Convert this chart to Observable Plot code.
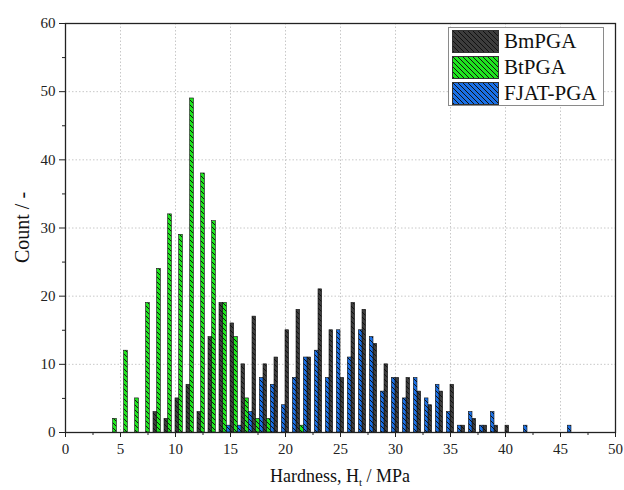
<!DOCTYPE html>
<html><head><meta charset="utf-8">
<script src="https://cdn.jsdelivr.net/npm/d3@7"></script>
<script src="https://cdn.jsdelivr.net/npm/@observablehq/plot@0.6"></script>
<style>
body{margin:0;background:#fff;}
#wrap{position:relative;width:624px;height:490px;}
#legend{position:absolute;left:448px;top:27px;width:154px;height:77px;border:1px solid #8a8a8a;background:#fff;font-family:'Liberation Serif',serif;font-size:21px;color:#111;}
.row{position:absolute;left:3px;height:23px;display:flex;align-items:center;}
.row svg{margin-right:5px;display:block;}
.row span{font-family:'Liberation Serif',serif;}
</style></head><body><div id="wrap"></div>
<script>
const seriesNames = ["BmPGA", "BtPGA", "FJAT-PGA"];
const seriesColors = ["#3d3d3d", "#1ee61e", "#1a70e6"];

const bmBins   = [8,9,10,11,12,13,14,15,16,17,18,19,20,21,22,23,24,25,26,27,28,29,30,31,32,33,34,35,36,37,38,39,40];
const bmCounts = [3,2,5,7,3,14,19,16,10,17,10,11,15,18,11,21,15,8,19,18,13,10,8,8,6,4,6,7,1,2,1,1,1];

const btBins   = [4,5,6,7,8,9,10,11,12,13,14,15,16,17,18,19,20,21];
const btCounts = [2,12,5,19,24,32,29,49,38,31,19,14,5,2,2,0,0,1];

const fjBins   = [14,15,16,17,18,19,20,21,22,23,24,25,26,27,28,29,30,31,32,33,34,35,36,37,38,39,40,41,42,43,44,45];
const fjCounts = [1,1,3,8,7,4,8,11,12,8,15,11,15,14,6,8,5,8,5,7,3,1,3,1,3,0,0,1,0,0,0,1];

const xTicks = [0,5,10,15,20,25,30,35,40,45,50];
const xMinor = [2.5,7.5,12.5,17.5,22.5,27.5,32.5,37.5,42.5,47.5];
const yTicks = [0,10,20,30,40,50,60];
const yMinor = [5,15,25,35,45,55];

const allBins = [bmBins, btBins, fjBins];
const allCounts = [bmCounts, btCounts, fjCounts];

function rowsFor(i) {
  return allBins[i].map((b, j) => ({series: seriesNames[i], x1: b + i/3, x2: b + (i+1)/3, count: allCounts[i][j]}))
    .filter(d => d.count > 0);
}

const font = "Liberation Serif";

const plot = Plot.plot({
  width: 624, height: 490,
  marginLeft: 65, marginRight: 9, marginTop: 23, marginBottom: 58,
  style: {fontSize: "15px", color: "#222", background: "#fff"},
  x: {domain: [0, 50]},
  y: {domain: [0, 60]},
  marks: [
    Plot.gridX(xTicks.slice(1, -1), {stroke: "#c8c8c8", strokeOpacity: 1, strokeDasharray: "1.5,2"}),
    Plot.gridY(yTicks.slice(1, -1), {stroke: "#c8c8c8", strokeOpacity: 1, strokeDasharray: "1.5,2"}),
    ...[0,1,2].map(i => Plot.rectY(rowsFor(i), {x1: "x1", x2: "x2", y: "count", fill: `url(#hatch-${i})`, stroke: "#111", strokeWidth: 0.6})),
    Plot.axisX(xTicks, {tickSize: 5, tickPadding: 6, label: null, fontSize: 15}),
    Plot.axisX(xMinor, {tickSize: 3, tickFormat: () => "", label: null}),
    Plot.axisY(yTicks, {tickSize: 6, tickPadding: 4, label: null, fontSize: 15}),
    Plot.axisY(yMinor, {tickSize: 3, tickFormat: () => "", label: null}),
    Plot.frame({stroke: "#222", strokeWidth: 1.3})
  ]
});

// hatch patterns
const svg = d3.select(plot);
svg.style("font-family", "'Liberation Serif', serif");
const defs = svg.insert("defs", ":first-child");
seriesColors.forEach((c, i) => {
  const p = defs.append("pattern").attr("id", `hatch-${i}`).attr("patternUnits", "userSpaceOnUse")
    .attr("width", 5).attr("height", 5);
  p.append("rect").attr("width", 5).attr("height", 5).attr("fill", c);
  p.append("path").attr("d", "M0,0L5,5M-1,4L1,6M4,-1L6,1").attr("stroke", "#111").attr("stroke-width", 1);
});

// axis titles
const sx = plot.scale("x"), sy = plot.scale("y");
const cx = (sx.range[0] + sx.range[1]) / 2;
const cy = (sy.range[0] + sy.range[1]) / 2;
const xt = svg.append("text").attr("x", cx).attr("y", 482).attr("text-anchor", "middle")
  .attr("font-size", 18).attr("fill", "#111");
xt.append("tspan").text("Hardness, H");
xt.append("tspan").attr("font-size", 11).attr("dy", 4).text("t");
xt.append("tspan").attr("dy", -4).text(" / MPa");
svg.append("text").attr("transform", `translate(29,${cy}) rotate(-90)`).attr("text-anchor", "middle")
  .attr("font-size", 20).attr("fill", "#111").text("Count / -");

svg.selectAll("text").attr("font-family", "'Liberation Serif', serif").style("font-family", "'Liberation Serif', serif");
svg.selectAll("g").style("font-family", "'Liberation Serif', serif");

const wrap = document.getElementById("wrap");
wrap.appendChild(plot);

// legend
const legend = document.createElement("div");
legend.id = "legend";
seriesNames.forEach((name, i) => {
  const row = document.createElement("div");
  row.className = "row";
  row.style.top = (2 + i * 26) + "px";
  row.innerHTML = `<svg width="47" height="23"><defs><pattern id="lh-${i}" patternUnits="userSpaceOnUse" width="5" height="5"><rect width="5" height="5" fill="${seriesColors[i]}"/><path d="M0,0L5,5M-1,4L1,6M4,-1L6,1" stroke="#111" stroke-width="1"/></pattern></defs><rect x="0.5" y="0.5" width="46" height="22" fill="url(#lh-${i})" stroke="#333" stroke-width="1"/></svg><span>${name}</span>`;
  legend.appendChild(row);
});
wrap.appendChild(legend);
</script>
</body></html>
